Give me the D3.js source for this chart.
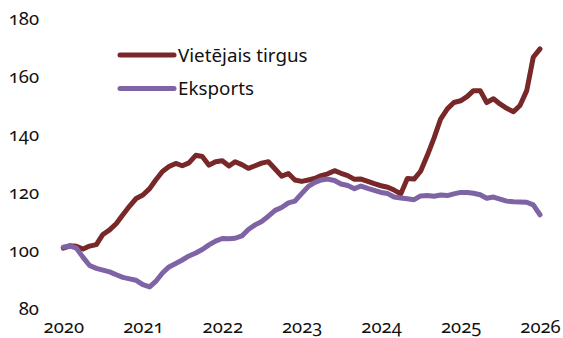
<!DOCTYPE html>
<html>
<head>
<meta charset="utf-8">
<script src="https://cdn.jsdelivr.net/npm/d3@7"></script>
<style>
  html, body { margin: 0; padding: 0; background: #fff; }
  svg { display: block; }
  text { font-family: "Noto Sans", Lato, sans-serif; font-variant-numeric: oldstyle-nums; font-feature-settings: "onum" 1; fill: #111; }
</style>
</head>
<body>
<svg id="chart" width="563" height="338"></svg>
<script>
// Monthly index, Jan 2020 – Jan 2026
const startMonth = new Date(2020, 0, 1);
const seriesNames = ["Vietējais tirgus", "Eksports"];
const domestic = [
  101.0, 101.8, 101.6, 100.7, 101.7, 102.2, 105.7, 107.3, 109.5, 112.5, 115.5, 118.1,
  119.3, 121.5, 124.5, 127.4, 129.1, 130.2, 129.4, 130.4, 133.0, 132.6, 129.6, 130.8,
  131.1, 129.3, 130.8, 129.8, 128.5, 129.4, 130.3, 130.8, 128.3, 125.8, 126.7, 124.5,
  124.0, 124.5, 125.0, 126.0, 126.6, 127.7, 126.8, 126.0, 124.7, 124.8, 124.0, 123.2,
  122.5, 122.0, 121.0, 119.7, 125.0, 124.8, 127.5, 133.0, 139.0, 145.5, 149.0, 151.2,
  151.8, 153.3, 155.3, 155.3, 151.2, 152.5, 150.7, 149.2, 148.0, 150.2, 155.3, 166.8,
  169.7
];
const exports = [
  101.3, 101.8, 101.0, 97.8, 95.0, 94.0, 93.4, 92.8, 91.8, 90.9, 90.4, 89.9,
  88.4, 87.6, 89.5, 92.4, 94.5, 95.7, 96.9, 98.3, 99.3, 100.5, 102.1, 103.4,
  104.3, 104.2, 104.4, 105.2, 107.4, 109.0, 110.2, 112.0, 114.0, 115.0, 116.6, 117.2,
  119.8, 122.3, 123.6, 124.5, 124.8, 124.3, 123.1, 122.6, 121.5, 122.4, 121.6, 120.9,
  120.2, 119.8, 118.6, 118.3, 118.0, 117.7, 119.0, 119.1, 118.9, 119.3, 119.1, 119.7,
  120.2, 120.2, 119.9, 119.4, 118.2, 118.6, 117.9, 117.2, 117.0, 116.9, 116.8, 115.9,
  112.5
];
const yTicks = [80, 100, 120, 140, 160, 180];
const xTickYears = [2020, 2021, 2022, 2023, 2024, 2025, 2026];
const colors = ["#782828", "#7e63a5"];

const svg = d3.select("#chart");

const months = domestic.map((_, i) => d3.timeMonth.offset(startMonth, i));

const x = d3.scaleTime()
  .domain([new Date(2020, 0, 1), new Date(2026, 0, 1)])
  .range([63.3, 540]);
const y = d3.scaleLinear()
  .domain([80, 180])
  .range([309, 19]);

// Y axis labels (no axis line, no ticks)
const yAxis = d3.axisLeft(y).tickValues(yTicks).tickSize(0).tickPadding(0).tickFormat(d3.format("d"));
svg.append("g")
  .attr("transform", "translate(39,0)")
  .call(yAxis)
  .call(g => g.select(".domain").remove())
  .call(g => g.selectAll("text")
    .attr("font-size", 18.5)
    .attr("fill", "#111")
    .attr("font-family", null)
    .attr("dy", "0.3em"));

// X axis labels
const xAxis = d3.axisBottom(x)
  .tickValues(xTickYears.map(yr => new Date(yr, 0, 1)))
  .tickSize(0).tickPadding(0)
  .tickFormat(d3.timeFormat("%Y"));
svg.append("g")
  .attr("transform", "translate(0,320)")
  .call(xAxis)
  .call(g => g.select(".domain").remove())
  .call(g => g.selectAll("text")
    .attr("font-size", 18.5)
    .attr("fill", "#111")
    .attr("font-family", null)
    .attr("dy", "0.7em"));

const line = d3.line()
  .x((d, i) => x(months[i]))
  .y(d => y(d));

[domestic, exports].forEach((values, k) => {
  svg.append("path")
    .datum(values)
    .attr("fill", "none")
    .attr("stroke", colors[k])
    .attr("stroke-width", 5)
    .attr("stroke-linejoin", "round")
    .attr("stroke-linecap", "round")
    .attr("d", line);
});

// Legend
const legend = svg.append("g");
seriesNames.forEach((name, k) => {
  const ly = 55 + k * 33.5;
  legend.append("line")
    .attr("x1", 120).attr("x2", 174)
    .attr("y1", ly).attr("y2", ly)
    .attr("stroke", colors[k])
    .attr("stroke-width", 5)
    .attr("stroke-linecap", "round");
  legend.append("text")
    .attr("x", 178).attr("y", ly)
    .attr("dy", "0.36em")
    .attr("font-size", 18.8)
    .text(name);
});
</script>
</body>
</html>
